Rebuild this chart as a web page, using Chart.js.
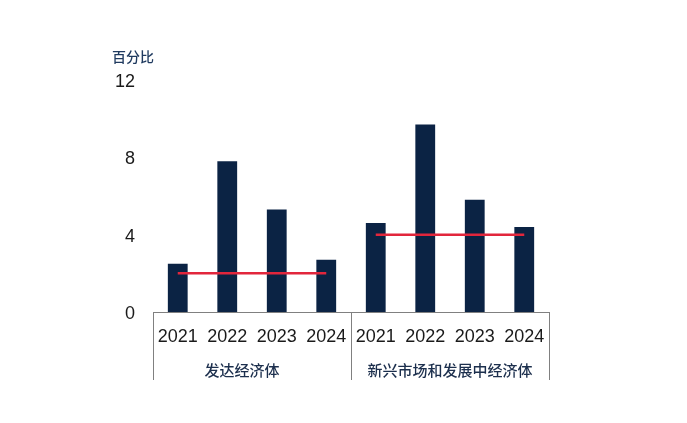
<!DOCTYPE html>
<html>
<head>
<meta charset="utf-8">
<script src="https://cdn.jsdelivr.net/npm/chart.js@4.4.0/dist/chart.umd.min.js"></script>
<style>
  html, body { margin: 0; padding: 0; background: #fff; }
  #wrap { width: 687px; height: 423px; position: relative; }
</style>
</head>
<body>
<div id="wrap"><canvas id="chart"></canvas></div>
<script>
// Data
const years = ['2021', '2022', '2023', '2024'];
const groups = ['发达经济体', '新兴市场和发展中经济体'];
const advanced = [2.5, 7.8, 5.3, 2.7];
const emerging = [4.6, 9.7, 5.8, 4.4];
const advancedTarget = 2;
const emergingTarget = 4;
const yTicks = [0, 4, 8, 12];
const unitLabel = '百分比';

const labels = years.concat(years);
const barValues = advanced.concat(emerging);
const advLine = years.map(() => advancedTarget).concat(years.map(() => null));
const emLine = years.map(() => null).concat(years.map(() => emergingTarget));

const navy = '#0b2344';
const red = '#e2263c';
const axisGray = '#808080';

// Draws group separators, group names and the unit label
const groupPlugin = {
    id: 'groupPlugin',
    afterDraw(chart) {
        const ctx = chart.ctx;
        const area = chart.chartArea;
        const x = chart.scales.x;
        const y = chart.scales.y;
        const mid = (x.getPixelForValue(3) + x.getPixelForValue(4)) / 2;
        const bounds = [area.left, mid, area.right];

        ctx.save();
        ctx.strokeStyle = axisGray;
        ctx.lineWidth = 1;
        bounds.forEach(bx => {
            const px = Math.round(bx) + 0.5;
            ctx.beginPath();
            ctx.moveTo(px, area.bottom);
            ctx.lineTo(px, area.bottom + 68);
            ctx.stroke();
        });

        ctx.fillStyle = '#1c2f4d';
        ctx.font = '500 15px "Noto Sans CJK SC", sans-serif';
        ctx.textAlign = 'center';
        ctx.textBaseline = 'middle';
        ctx.fillText(groups[0], (bounds[0] + bounds[1]) / 2 - 10, area.bottom + 58);
        ctx.fillText(groups[1], (bounds[1] + bounds[2]) / 2, area.bottom + 58);

        ctx.font = '500 14px "Noto Sans CJK SC", sans-serif';
        ctx.fillStyle = '#1f3a5f';
        ctx.textAlign = 'left';
        ctx.fillText(unitLabel, 112, y.getPixelForValue(12) - 23);
        ctx.restore();
    }
};

const chart = new Chart(document.getElementById('chart'), {
    data: {
        labels: labels,
        datasets: [
            {
                type: 'line',
                data: advLine,
                borderColor: red,
                borderWidth: 2.5,
                pointRadius: 0,
                spanGaps: false,
                order: 0
            },
            {
                type: 'line',
                data: emLine,
                borderColor: red,
                borderWidth: 2.5,
                pointRadius: 0,
                spanGaps: false,
                order: 0
            },
            {
                type: 'bar',
                data: barValues,
                backgroundColor: navy,
                barPercentage: 0.4,
                categoryPercentage: 1.0,
                order: 1
            }
        ]
    },
    options: {
        responsive: true,
        maintainAspectRatio: false,
        animation: false,
        layout: {
            padding: { left: 0, right: 138, top: 80, bottom: 0 }
        },
        plugins: {
            legend: { display: false },
            tooltip: { enabled: false }
        },
        scales: {
            x: {
                grid: { display: false, drawTicks: false },
                border: { display: true, color: axisGray, width: 1 },
                ticks: {
                    color: '#1a1a1a',
                    padding: 14,
                    maxRotation: 0,
                    autoSkip: false,
                    font: { family: '"Liberation Sans", Arial, sans-serif', size: 18 }
                },
                afterFit(scale) { scale.height = 111; }
            },
            y: {
                min: 0,
                max: 12,
                afterBuildTicks(scale) { scale.ticks = yTicks.map(v => ({ value: v })); },
                grid: { display: false, drawTicks: false },
                border: { display: false },
                ticks: {
                    color: '#1a1a1a',
                    padding: 18,
                    labelOffset: 2,
                    font: { family: '"Liberation Sans", Arial, sans-serif', size: 18 }
                },
                afterFit(scale) { scale.width = 153; }
            }
        }
    },
    plugins: [groupPlugin]
});
</script>
</body>
</html>
